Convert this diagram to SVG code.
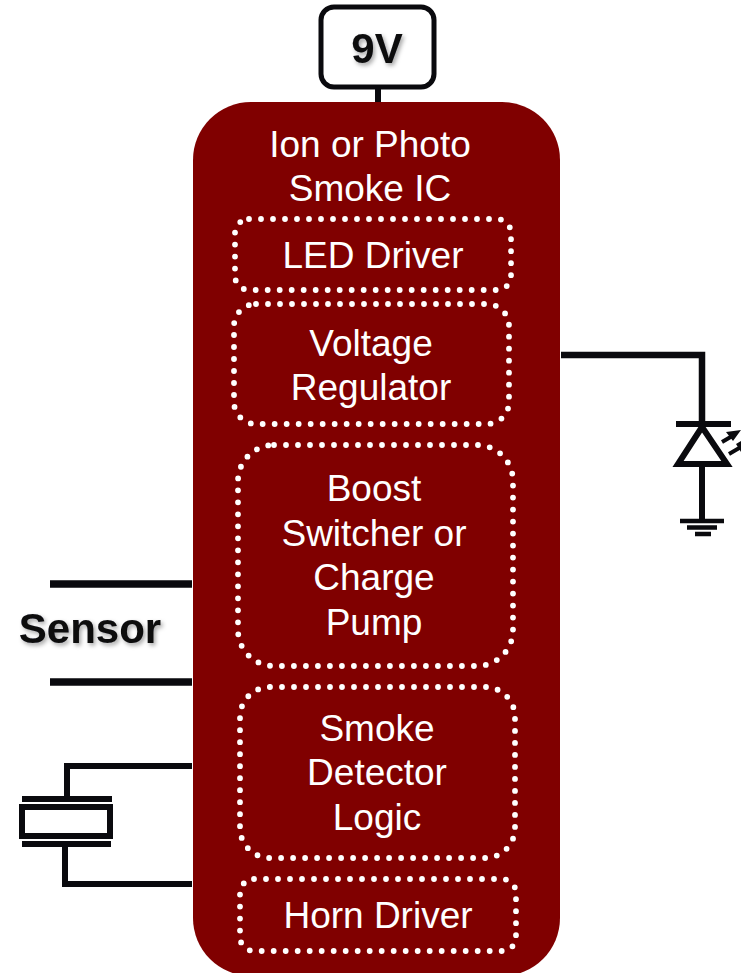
<svg xmlns="http://www.w3.org/2000/svg" width="741" height="973" viewBox="0 0 741 973">
<defs>
<style>
.w{fill:none;stroke:#0a0a0e;stroke-width:6}
.f{fill:#0a0a0e}
.d{fill:none;stroke:#fff;stroke-width:5.800;stroke-linecap:round;stroke-dasharray:0 12}
.t{font-family:"Liberation Sans",Arial,sans-serif;font-size:37px;fill:#fff;text-anchor:middle}
.b{font-family:"Liberation Sans",Arial,sans-serif;font-size:42px;font-weight:bold;fill:#0a0a0e;text-anchor:middle;filter:url(#s)}
</style>
<filter id="s" x="-20%" y="-20%" width="140%" height="150%"><feDropShadow dx="2" dy="2.5" stdDeviation="2" flood-color="#000" flood-opacity="0.35"/></filter>
</defs>
<rect width="741" height="973" fill="#fff"/>
<g id="connectors">
<path class="w" d="M378 86V103"/>
<path class="w" style="stroke-width:6.500" d="M561 355H702V424"/>
<path class="w" d="M702 462V521"/>
<path class="w" style="stroke-width:7.500" d="M50 584H192M50 682H192"/>
<path class="w" d="M192 766H67V798"/>
<path class="w" d="M192 884H65V844"/>
</g>
<g id="ic">
<rect x="193" y="102" width="367" height="874" rx="58" fill="#800000"/>
<text class="t" x="370" y="157">Ion or Photo</text>
<text class="t" x="370" y="201">Smoke IC</text>
</g>
<g id="led-driver">
<rect class="d" x="235" y="219" width="276" height="71" rx="14"/>
<text class="t" x="373" y="268">LED Driver</text>
</g>
<g id="voltage-regulator">
<rect class="d" x="234" y="304" width="275" height="120" rx="22"/>
<text class="t" x="371" y="356">Voltage</text>
<text class="t" x="371" y="400">Regulator</text>
</g>
<g id="boost">
<rect class="d" x="238" y="445" width="275" height="221" rx="36"/>
<text class="t" x="374" y="501">Boost</text>
<text class="t" x="374" y="546">Switcher or</text>
<text class="t" x="374" y="590">Charge</text>
<text class="t" x="374" y="635">Pump</text>
</g>
<g id="logic">
<rect class="d" x="240" y="687" width="275" height="171" rx="30"/>
<text class="t" x="377" y="741">Smoke</text>
<text class="t" x="377" y="785">Detector</text>
<text class="t" x="377" y="830">Logic</text>
</g>
<g id="horn-driver">
<rect class="d" x="240" y="879" width="276" height="72" rx="14"/>
<text class="t" x="378" y="928">Horn Driver</text>
</g>
<g id="battery">
<rect x="321" y="7" width="113" height="80" rx="13" fill="#fff" stroke="#0a0a0e" stroke-width="5"/>
<text class="b" x="377" y="63">9V</text>
</g>
<g id="sensor">
<text class="b" x="90" y="643">Sensor</text>
</g>
<g id="led">
<path class="w" d="M676 424H731"/>
<path class="w" d="M702 427L678 464H727Z" fill="#fff"/>
<path class="w" style="stroke-width:4" d="M722 442L734 435M729 454L741 447"/>
<path class="f" d="M741 430L726 432L733 441ZM741 441L736 444L741 452Z"/>
</g>
<g id="ground">
<path class="w" style="stroke-width:4.500" d="M680 521H724M687 527.500H717M695 534H711"/>
</g>
<g id="crystal">
<path class="w" d="M22 799H112M22 844H111"/>
<rect class="w" x="22" y="807" width="88" height="29" fill="#fff"/>
</g>
</svg>
